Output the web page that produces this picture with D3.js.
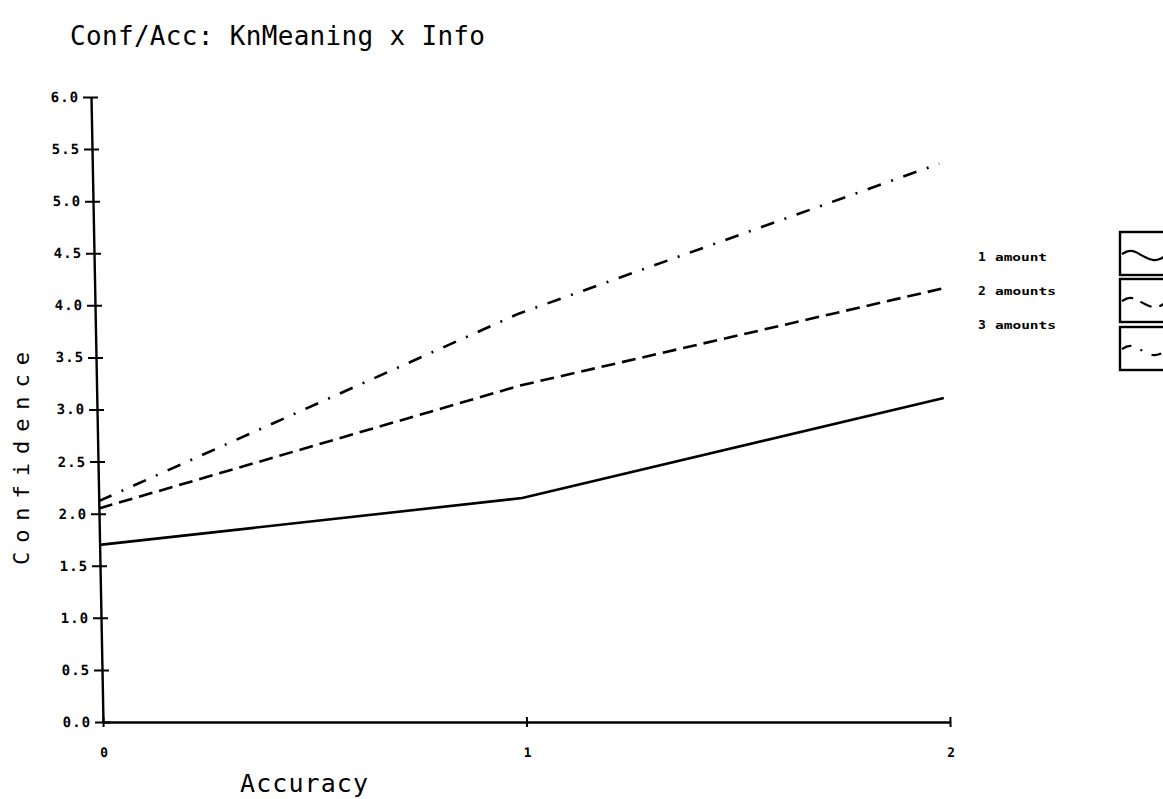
<!DOCTYPE html>
<html><head><meta charset="utf-8">
<script src="https://cdn.jsdelivr.net/npm/d3@7"></script>
<style>body{margin:0;background:#fff;overflow:hidden} svg{display:block}</style>
</head><body>
<svg id="c" width="1163" height="799"></svg>
<script>
// ---- data ----
const accuracy = [0, 1, 2];
const xTicks = [0, 1, 2];
const yTicks = [0, 0.5, 1, 1.5, 2, 2.5, 3, 3.5, 4, 4.5, 5, 5.5, 6];
const yTickLabels = ["0.0","0.5","1.0","1.5","2.0","2.5","3.0","3.5","4.0","4.5","5.0","5.5","6.0"];
const seriesNames = ["1 amount", "2 amounts", "3 amounts"];
const oneAmount = [1.70, 2.15, 3.11];
const twoAmounts = [2.05, 3.23, 4.16];
const threeAmounts = [2.12, 3.92, 5.36];
const titleText = "Conf/Acc: KnMeaning x Info";
const xLabel = "Accuracy";
const yLabel = "Confidence";

const series = [
  {name: seriesNames[0], values: oneAmount, dash: null},
  {name: seriesNames[1], values: twoAmounts, dash: "14,7"},
  {name: seriesNames[2], values: threeAmounts, dash: "14,11,2,11"}
];

const svg = d3.select("#c");
const FONT = "'DejaVu Sans Mono', monospace";

const x = d3.scaleLinear().domain([0, 2]).range([103, 950]);
const y = d3.scaleLinear().domain([0, 6]).range([722, 97]);

// title
svg.append("text").attr("x", 70).attr("y", 45)
  .attr("font-family", FONT).attr("font-size", 26).attr("fill", "#000")
  .attr("textLength", 415).attr("lengthAdjust", "spacing")
  .text(titleText);

// x label
svg.append("text").attr("x", 240).attr("y", 792)
  .attr("font-family", FONT).attr("font-size", 25).attr("fill", "#000")
  .attr("textLength", 128).attr("lengthAdjust", "spacing")
  .text(xLabel);

// y label
svg.append("text")
  .attr("transform", "translate(29,565) rotate(-90)")
  .attr("font-family", FONT).attr("font-size", 22).attr("fill", "#000")
  .attr("textLength", 213).attr("lengthAdjust", "spacing")
  .text(yLabel);

// plot group with slight skew (tilted axis in original)
const skew = Math.atan(12 / 625) * 180 / Math.PI;
const g = svg.append("g")
  .attr("transform", `translate(0,722) skewX(${skew}) translate(0,-722)`);

// y axis
const yAxis = d3.axisLeft(y).tickValues(yTicks)
  .tickFormat((d, i) => yTickLabels[i]).tickSize(8).tickPadding(4).tickSizeOuter(0);
const ya = g.append("g").attr("transform", `translate(${x(0)},0)`).call(yAxis);
ya.select(".domain").attr("stroke", "#000").attr("stroke-width", 2.4);
ya.selectAll(".tick line").attr("x1", 7).attr("stroke", "#000").attr("stroke-width", 2);
ya.selectAll(".tick text").attr("font-family", FONT).attr("font-size", 14)
  .attr("font-weight", "bold").attr("letter-spacing", 1).attr("fill", "#000");

// x axis
const xAxis = d3.axisBottom(x).tickValues(xTicks).tickFormat(d3.format("d"))
  .tickSize(5).tickPadding(30).tickSizeOuter(0);
const xa = g.append("g").attr("transform", `translate(0,${y(0)})`).call(xAxis);
xa.select(".domain").attr("stroke", "#000").attr("stroke-width", 2.4);
xa.selectAll(".tick line").attr("y1", -5).attr("stroke", "#000").attr("stroke-width", 2);
xa.selectAll(".tick text").attr("font-family", FONT).attr("font-size", 13)
  .attr("font-weight", "bold").attr("fill", "#000").attr("dy", "0");

// lines
const line = d3.line().x((d, i) => x(accuracy[i])).y(d => y(d));
g.selectAll("path.series").data(series).join("path")
  .attr("class", "series")
  .attr("d", d => line(d.values))
  .attr("fill", "none").attr("stroke", "#000").attr("stroke-width", 2.6)
  .attr("stroke-dasharray", d => d.dash);

// legend
const labelYs = [257, 291, 325];
const boxTops = [232, 279, 327];
const swatchShape = [[0, 0.1], [0.15, -0.25], [0.3, -0.2], [0.55, 0.5], [0.75, 0.8], [0.9, 0.6], [1, 0.3]];
const leg = svg.append("g");
series.forEach((s, i) => {
  const ly = labelYs[i];
  const parts = s.name.split(" ");
  leg.append("text").attr("x", 978).attr("y", ly + 4)
    .attr("font-family", FONT).attr("font-size", 13).attr("font-weight", "bold").text(parts[0]);
  leg.append("text").attr("x", 995).attr("y", ly + 4)
    .attr("font-family", FONT).attr("font-size", 11).attr("font-weight", "bold")
    .attr("textLength", parts[1].length === 6 ? 52 : 61).attr("lengthAdjust", "spacingAndGlyphs")
    .text(parts[1]);
  const top = boxTops[i];
  leg.append("rect").attr("x", 1120).attr("y", top).attr("width", 80).attr("height", 43)
    .attr("fill", "none").attr("stroke", "#000").attr("stroke-width", 2.4);
  const cy = top + 21;
  const sw = d3.line().curve(d3.curveBasis)
    .x(p => 1122 + p[0] * 43).y(p => cy + p[1] * 10);
  leg.append("path").attr("d", sw(swatchShape)).attr("fill", "none")
    .attr("stroke", "#000").attr("stroke-width", 2.2)
    .attr("stroke-dasharray", s.dash ? (i === 1 ? "12,8" : "10,10,2,10") : null);
});
</script>
</body></html>
